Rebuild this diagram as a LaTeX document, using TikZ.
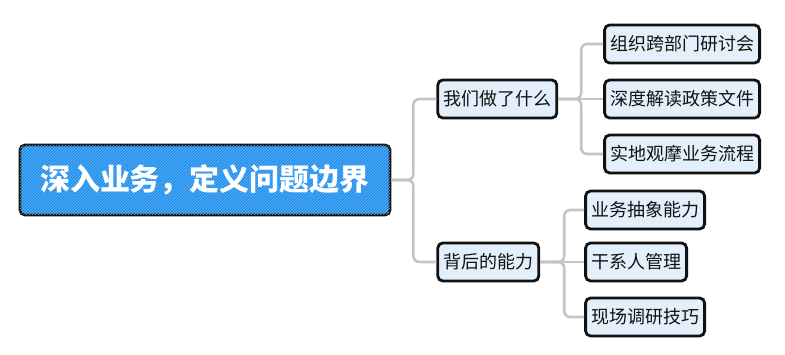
\documentclass[tikz,border=0pt]{standalone}
\usepackage{fontspec}
\setmainfont{Noto Sans CJK SC}
\usepackage{xcolor}
\usepackage{tikz}
\usetikzlibrary{positioning,patterns}
\definecolor{RootBlue}{HTML}{2291EE}
\definecolor{TopicF}{HTML}{E3F0FC}
\definecolor{Ink}{HTML}{111111}
\definecolor{LinkGray}{HTML}{C4C4C4}

\begin{document}
\begin{tikzpicture}[x=1pt,y=-1pt,
    rootbox/.style={draw=Ink,fill=RootBlue,rounded corners=5pt,line width=2.8pt,
      minimum width=370pt,minimum height=70pt,text=white,
      font=\fontsize{30}{34}\selectfont\bfseries,
      postaction={pattern=north east lines,pattern color=white!30!RootBlue}},
    topic/.style={draw=Ink,fill=TopicF,rounded corners=5pt,line width=2.8pt,
      minimum height=38pt,inner xsep=5.5pt,text=Ink,
      font=\fontsize{18}{21}\selectfont},
    link/.style={draw=LinkGray,line width=2.6pt,rounded corners=6pt}]
  \useasboundingbox (0,0) rectangle (785,355);
  % central topic
  \node[rootbox] (root) at (205,180) {深入业务，定义问题边界};
  % main branches
  \node[topic, right=45pt of root, yshift=81pt] (did) {我们做了什么};
  \node[topic, right=45pt of root, yshift=-82pt] (skill) {背后的能力};
  % what we did
  \node[topic, right=45pt of did, yshift=55pt] (did1) {组织跨部门研讨会};
  \node[topic, right=45pt of did] (did2) {深度解读政策文件};
  \node[topic, right=45pt of did, yshift=-55pt] (did3) {实地观摩业务流程};
  % abilities behind it
  \node[topic, right=44pt of skill, yshift=52pt] (skill1) {业务抽象能力};
  \node[topic, right=44pt of skill] (skill2) {干系人管理};
  \node[topic, right=44pt of skill, yshift=-55pt] (skill3) {现场调研技巧};
  % connectors
  \draw[link] (root.east) -- ++(22,0) |- (did.west);
  \draw[link] (root.east) -- ++(22,0) |- (skill.west);
  \draw[link] (did.east) -- ++(23,0) |- (did1.west);
  \draw[link] (did.east) -- (did2.west);
  \draw[link] (did.east) -- ++(23,0) |- (did3.west);
  \draw[link] (skill.east) -- ++(24,0) |- (skill1.west);
  \draw[link] (skill.east) -- (skill2.west);
  \draw[link] (skill.east) -- ++(24,0) |- (skill3.west);
\end{tikzpicture}
\end{document}
